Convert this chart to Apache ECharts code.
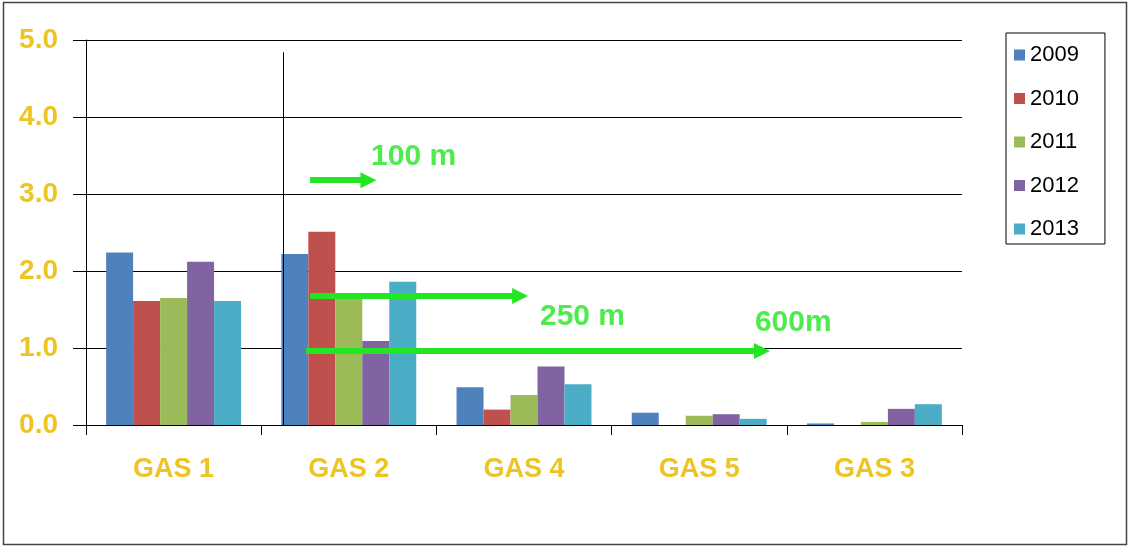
<!DOCTYPE html>
<html>
<head>
<meta charset="utf-8">
<script src="https://cdn.jsdelivr.net/npm/echarts@6/dist/echarts.min.js"></script>
<style>
  html, body { margin: 0; padding: 0; background: #fff; }
  #chart { width: 1132px; height: 547px; }
</style>
</head>
<body>
<div id="chart"></div>
<script>
// Categories, years and measured values
const categories = ['GAS 1', 'GAS 2', 'GAS 4', 'GAS 5', 'GAS 3'];
const years = ['2009', '2010', '2011', '2012', '2013'];
const v2009 = [2.24, 2.22, 0.49, 0.16, 0.02];
const v2010 = [1.61, 2.51, 0.20, 0.00, 0.00];
const v2011 = [1.65, 1.65, 0.39, 0.12, 0.04];
const v2012 = [2.12, 1.09, 0.76, 0.14, 0.21];
const v2013 = [1.61, 1.86, 0.53, 0.08, 0.27];
const yTicks = [0, 1, 2, 3, 4, 5];

// Distance annotations, in category units across the plot (0..5) and value units
const distanceLabels = ['100 m', '250 m', '600m'];
const arrowStartX = [1.279, 1.279, 1.256];
const arrowEndX = [1.612, 2.478, 3.858];
const arrowY = [3.18, 1.675, 0.961];
const labelX = [1.627, 2.591, 3.818];
const labelY = [3.48, 1.40, 1.325];
// Separator drawn after the first group
const dividerX = 1.124;
const dividerTop = 4.84;

const colors = ['#4F81BD', '#C0504D', '#9BBB59', '#8064A2', '#4BACC6'];
const seriesValues = [v2009, v2010, v2011, v2012, v2013];
const gold = '#EEC422';
const green = '#22E622';
const font = 'Liberation Sans, Arial, sans-serif';

const chart = echarts.init(document.getElementById('chart'), null, { renderer: 'canvas' });

const barSeries = years.map((y, i) => ({
  name: y,
  type: 'bar',
  xAxisIndex: 0,
  yAxisIndex: 0,
  data: seriesValues[i],
  barGap: '0%',
  barCategoryGap: '23%',
  itemStyle: { color: colors[i] },
  emphasis: { disabled: true }
}));

const arrowLines = distanceLabels.map((_, i) => ([
  { coord: [arrowStartX[i], arrowY[i]], symbol: 'none' },
  { coord: [arrowEndX[i], arrowY[i]], symbol: 'triangle', symbolSize: [16, 16] }
]));

const annotationSeries = {
  type: 'scatter',
  xAxisIndex: 1,
  yAxisIndex: 0,
  symbolSize: 0,
  silent: true,
  data: distanceLabels.map((t, i) => ({ value: [labelX[i], labelY[i]], name: t })),
  label: {
    show: true,
    position: 'right',
    distance: 0,
    formatter: p => p.name,
    color: green,
    fontFamily: font,
    fontWeight: 'bold',
    fontSize: 30
  },
  markLine: {
    silent: true,
    animation: false,
    symbol: ['none', 'triangle'],
    label: { show: false },
    lineStyle: { color: green, width: 6, type: 'solid' },
    data: arrowLines.concat([[
      { coord: [dividerX, 0], symbol: 'none', lineStyle: { color: '#000', width: 1 } },
      { coord: [dividerX, dividerTop], symbol: 'none' }
    ]])
  }
};

chart.setOption({
  animation: false,
  backgroundColor: '#fff',
  grid: { left: 86, right: 170, top: 40, bottom: 122, show: false },
  legend: {
    orient: 'vertical',
    left: 1006,
    top: 33,
    data: years,
    icon: 'rect',
    itemWidth: 11,
    itemHeight: 11,
    itemGap: 21.5,
    padding: [11, 26, 4, 8],
    borderColor: '#000',
    borderWidth: 1,
    textStyle: { color: '#000', fontSize: 22, fontFamily: font }
  },
  xAxis: [{
    type: 'category',
    data: categories,
    axisLine: { lineStyle: { color: '#000', width: 1 } },
    axisTick: { show: true, length: 10, lineStyle: { color: '#000' } },
    axisLabel: { color: gold, fontFamily: font, fontWeight: 'bold', fontSize: 27, margin: 31 },
    splitLine: { show: false }
  }, {
    type: 'value',
    min: 0,
    max: 5,
    show: false
  }],
  yAxis: [{
    type: 'value',
    min: 0,
    max: 5,
    interval: 1,
    axisLine: { show: true, lineStyle: { color: '#000', width: 1 } },
    axisTick: { show: true, length: 13, lineStyle: { color: '#000' } },
    axisLabel: {
      color: gold, fontFamily: font, fontWeight: 'bold', fontSize: 28, margin: 28,
      formatter: v => yTicks.includes(v) ? v.toFixed(1) : ''
    },
    splitLine: { show: true, lineStyle: { color: '#000', width: 1 } }
  }],
  graphic: [{
    type: 'rect',
    shape: { x: 3.5, y: 2.5, width: 1123, height: 542 },
    style: { fill: 'none', stroke: '#444', lineWidth: 1.5 },
    silent: true,
    z: 100
  }],
  series: barSeries.concat([annotationSeries])
});
</script>
</body>
</html>
